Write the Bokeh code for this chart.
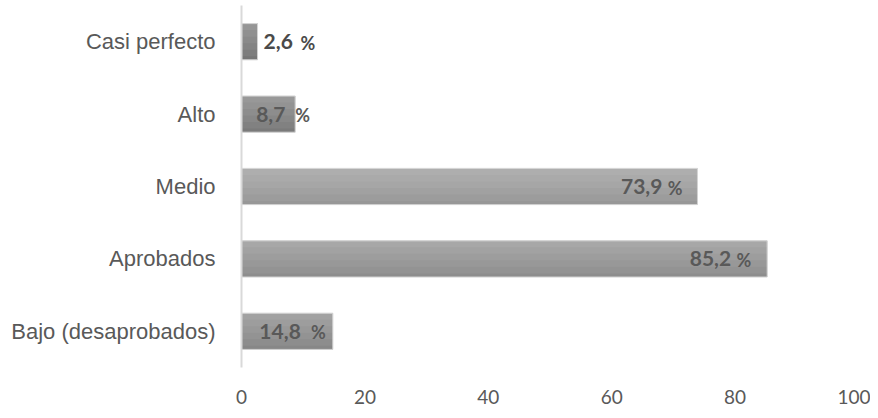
from bokeh.plotting import figure
from bokeh.models import ColumnDataSource, FactorRange
from bokeh.core.properties import value
from bokeh.transform import dodge
from bokeh.embed import file_html
from bokeh.resources import INLINE

categories = ["Casi perfecto", "Alto", "Medio", "Aprobados", "Bajo (desaprobados)"]
values = [2.6, 8.7, 73.9, 85.2, 14.8]
value_labels = ["2,6", "8,7", "73,9", "85,2", "14,8"]
x_ticks = [0, 20, 40, 60, 80, 100]

# styling per bar
bar_colors = ["#767676", "#7a7a7a", "#979797", "#8d8d8d", "#878787"]
label_colors = ["#4a4a4a", "#595959", "#595959", "#595959", "#595959"]
num_align = ["left", "left", "right", "right", "right"]
num_offset = [6, -39, -35, -36, -32]
pct_align = ["left", "left", "right", "right", "right"]
pct_offset = [43, 0, -15, -16, -7]
bar_h = 0.5
sheen_heights = [0.45, 0.36, 0.27, 0.18, 0.09]

y_factors = list(reversed(categories))

src = ColumnDataSource(dict(
    cat=categories, val=values, lab=value_labels,
    color=bar_colors, lcolor=label_colors,
    nalign=num_align, noff=num_offset,
    palign=pct_align, poff=pct_offset,
    pct=["%"] * len(categories),
))

p = figure(width=870, height=410, y_range=FactorRange(*y_factors),
           x_range=(0, 100), output_backend="svg", toolbar_location=None,
           min_border_left=241, min_border_right=12, min_border_top=5,
           min_border_bottom=43)

p.hbar(y="cat", right="val", left=0, height=bar_h, source=src,
       fill_color="color", line_color="#d0d0d0", line_width=1)
# soft vertical gradient: lighter toward the top edge of each bar
for h in sheen_heights:
    p.hbar(y=dodge("cat", bar_h / 2 - h / 2, range=p.y_range), right="val",
           left=0, height=h, source=src, fill_color="white",
           fill_alpha=0.055, line_color=None)

p.text(x="val", y="cat", text="lab", source=src, text_align="nalign",
       x_offset="noff", text_baseline="middle",
       text_font=value("Lato"), text_font_style="bold",
       text_font_size="21px", text_color="lcolor")
p.text(x="val", y="cat", text="pct", source=src, text_align="palign",
       x_offset="poff", y_offset=1, text_baseline="middle",
       text_font=value("Lato"), text_font_style="bold",
       text_font_size="18px", text_color="lcolor")

p.xgrid.visible = False
p.ygrid.visible = False
p.outline_line_color = None

p.xaxis.ticker = x_ticks
p.xaxis.axis_line_color = None
p.xaxis.major_tick_line_color = None
p.xaxis.minor_tick_line_color = None
p.xaxis.major_label_standoff = 16
p.xaxis.major_label_text_font = "Lato"
p.xaxis.major_label_text_font_size = "19px"
p.xaxis.major_label_text_color = "#595959"

p.yaxis.axis_line_color = "#d9d9d9"
p.yaxis.axis_line_width = 2
p.yaxis.major_tick_line_color = None
p.yaxis.minor_tick_line_color = None
p.yaxis.major_label_standoff = 20
p.yaxis.major_label_text_font = "Liberation Sans"
p.yaxis.major_label_text_font_size = "22px"
p.yaxis.major_label_text_color = "#595959"

open("out.html", "w").write(file_html(p, INLINE))
